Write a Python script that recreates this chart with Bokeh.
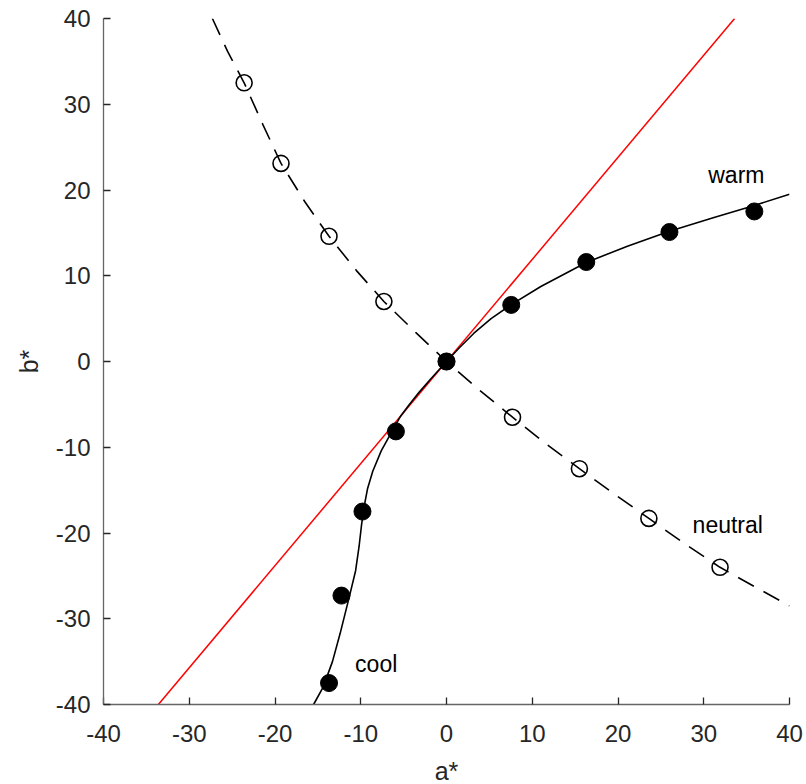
from bokeh.plotting import figure
from bokeh.models import Range1d, FixedTicker
from bokeh.core.properties import value
from bokeh.embed import file_html
from bokeh.resources import INLINE

# ---- data ----
warm_a = [-13.7, -12.25, -9.8, -5.9, 0.0, 7.55, 16.3, 26.0, 35.9]
warm_b = [-37.5, -27.3, -17.5, -8.15, 0.0, 6.6, 11.6, 15.1, 17.5]

neutral_a = [-23.6, -19.3, -13.7, -7.3, 0.0, 7.7, 15.5, 23.6, 31.9]
neutral_b = [32.5, 23.1, 14.6, 7.0, 0.0, -6.5, -12.5, -18.3, -24.0]

# fitted curves
warm_curve_a = [-15.5, -14.4, -13.3, -12.4, -11.3, -10.6, -10.2, -9.9, -9.6, -9.2,
                -8.6, -7.6, -6.5, -5.4, -4.4, -3.2, -2.0, -1.0, 0.0, 1.5, 3.2, 5.2,
                7.5, 11.0, 16.3, 21.1, 26.0, 31.2, 35.9, 40.0]
warm_curve_b = [-40.0, -38.0, -35.0, -31.7, -27.3, -24.4, -21.6, -19.0, -16.9, -14.8,
                -12.8, -10.4, -8.4, -6.45, -5.1, -3.6, -2.22, -1.1, 0.0, 1.6, 3.3, 5.0,
                6.6, 8.75, 11.55, 13.45, 15.2, 16.8, 18.2, 19.5]

neutral_curve_a = [-27.3, -25.5, -23.6, -21.4, -19.3, -16.5, -13.7, -10.5, -7.3, -3.6,
                   0.0, 3.8, 7.7, 11.6, 15.5, 19.5, 23.6, 27.7, 31.9, 36.0, 40.0]
neutral_curve_b = [40.0, 36.1, 32.5, 27.6, 23.1, 18.6, 14.6, 10.6, 7.0, 3.4,
                   0.0, -3.3, -6.5, -9.6, -12.5, -15.4, -18.3, -21.2, -24.0, -26.3, -28.5]

red_a = [-33.6, 33.6]
red_b = [-40.0, 40.0]

ticks = [-40, -30, -20, -10, 0, 10, 20, 30, 40]
tick_labels = ["-40", "-30", "-20", "-10", "0", "10", "20", "30", "40"]

labels = ["warm", "cool", "neutral"]
label_a = [33.8, -8.2, 32.8]
label_b = [21.7, -35.3, -19.1]

FONT = "Liberation Sans"

p = figure(frame_width=686, frame_height=686,
           x_range=Range1d(-40, 40), y_range=Range1d(-40, 40),
           output_backend="svg", toolbar_location=None,
           min_border_left=103, min_border_right=17,
           min_border_top=18, min_border_bottom=80)

p.outline_line_color = None
p.grid.visible = False
p.background_fill_color = "white"
p.border_fill_color = "white"

for ax in (p.xaxis[0], p.yaxis[0]):
    ax.ticker = FixedTicker(ticks=ticks)
    ax.major_label_overrides = {t: s for t, s in zip(ticks, tick_labels)}
    ax.minor_tick_line_color = None
    ax.major_tick_in = 7
    ax.major_tick_out = 0
    ax.major_tick_line_color = "#262626"
    ax.major_tick_line_width = 1.3
    ax.axis_line_color = "#666666"
    ax.axis_line_width = 1.3
    ax.major_label_text_font = FONT
    ax.major_label_text_font_size = "24px"
    ax.major_label_text_color = "#262626"
    ax.axis_label_text_font = FONT
    ax.axis_label_text_font_size = "25px"
    ax.axis_label_text_font_style = "normal"
    ax.axis_label_text_color = "#262626"

p.xaxis.axis_label = "a*"
p.yaxis.axis_label = "b*"
p.xaxis.major_label_standoff = 20
p.yaxis.major_label_standoff = 13
p.xaxis.axis_label_standoff = 12
p.yaxis.axis_label_standoff = 10

p.line(red_a, red_b, line_color="red", line_width=1.5)
p.line(neutral_curve_a, neutral_curve_b, line_color="black", line_width=1.6,
       line_dash="18 11")
p.line(warm_curve_a, warm_curve_b, line_color="black", line_width=1.6)

p.scatter(neutral_a, neutral_b, size=16, marker="circle", fill_alpha=0,
          line_color="black", line_width=1.6)
p.scatter(warm_a, warm_b, size=17, marker="circle", fill_color="black",
          line_color="black")

p.text(x=label_a, y=label_b, text=labels, text_font=value(FONT),
       text_font_size="23px", text_align="center", text_baseline="middle",
       text_color="black")

open("out.html", "w").write(file_html(p, INLINE))
